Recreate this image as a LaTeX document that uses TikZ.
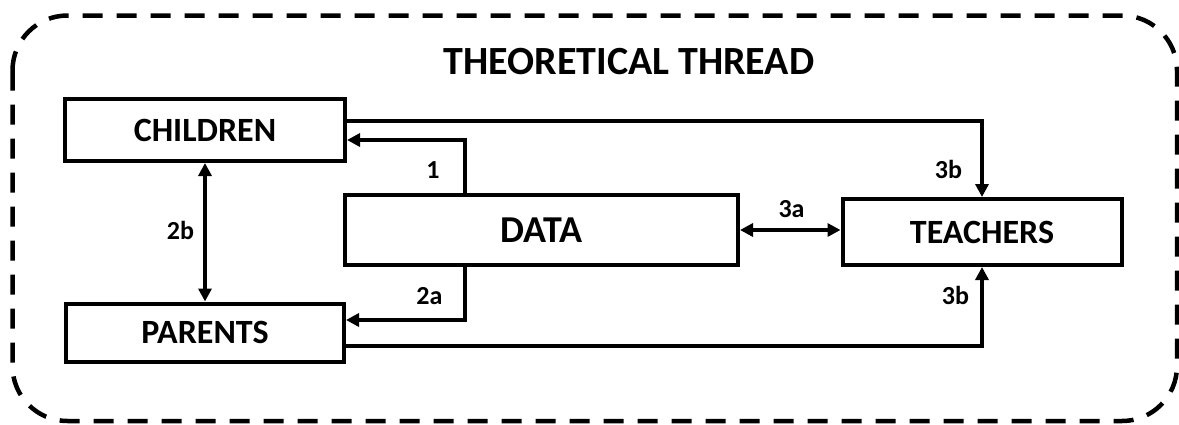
\documentclass[tikz,border=0pt]{standalone}
\usepackage{fontspec}
\setmainfont{Carlito}
\usetikzlibrary{arrows.meta}
\tikzset{
  box/.style={draw, line width=4pt, inner sep=0pt, font=\fontsize{34}{36}\selectfont\bfseries},
  arr/.style={line width=4pt, -{Triangle[length=13pt,width=13pt]}},
  arr2/.style={line width=4pt, {Triangle[length=13pt,width=13pt]}-{Triangle[length=13pt,width=13pt]}},
  lbl/.style={inner sep=0pt, font=\fontsize{26}{28}\selectfont\bfseries},
  frame/.style={line width=4.5pt, dash pattern=on 20pt off 14pt, rounded corners=55pt}
}
\begin{document}
\begin{tikzpicture}[x=1pt,y=-1pt]
\useasboundingbox (0,0) rectangle (1179,424);
\draw[frame] (12.5,15.5) rectangle (1177,421);
\node[inner sep=0pt, font=\fontsize{40}{42}\selectfont\bfseries] (title) at (629,62) {THEORETICAL THREAD};
\node[box, minimum width=280pt, minimum height=62pt] (children) at (205,130) {CHILDREN};
\node[box, minimum width=278pt, minimum height=58pt] (parents) at (205,332.5) {PARENTS};
\node[box, minimum width=393pt, minimum height=70pt, font=\fontsize{38}{40}\selectfont\bfseries] (data) at (541.5,230) {DATA};
\node[box, minimum width=279pt, minimum height=66pt] (teachers) at (982,232) {TEACHERS};
\coordinate (k1) at (465,140);
\coordinate (k2) at (465,320);
\coordinate (k3) at (982,121);
\coordinate (k4) at (982,346);
\draw[arr] (k1 |- data.north) -- (k1) -- (k1 -| children.east);
\draw[arr] (k2 |- data.south) -- (k2) -- (k2 -| parents.east);
\draw[arr] (k3 -| children.east) -- (k3) -- (teachers.north);
\draw[arr] (k4 -| parents.east) -- (k4) -- (teachers.south);
\draw[arr2] (children.south) -- (parents.north);
\draw[arr2] (data.east) -- (data.east -| teachers.west);
\node[lbl] (l1) at (433,170) {1};
\node[lbl] (l2a) at (429.5,296) {2a};
\node[lbl] (l2b) at (180.5,230.5) {2b};
\node[lbl] (l3a) at (791.5,209.5) {3a};
\node[lbl] (l3b1) at (948.5,169) {3b};
\node[lbl] (l3b2) at (955.5,295) {3b};
\end{tikzpicture}
\end{document}
